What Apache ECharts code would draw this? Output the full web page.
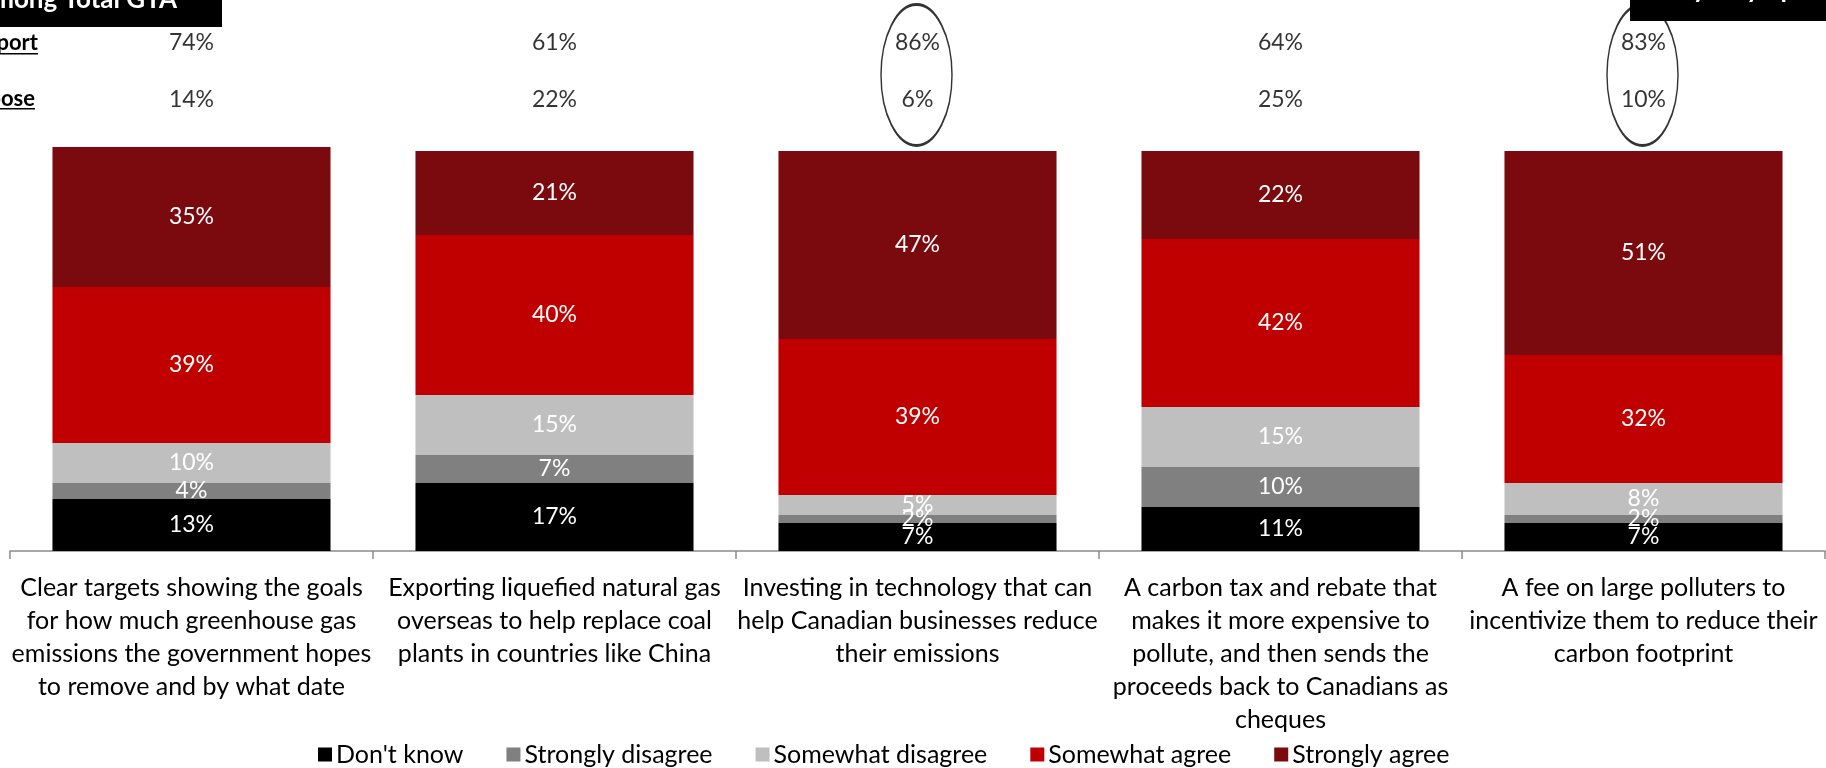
<!DOCTYPE html>
<html>
<head>
<meta charset="utf-8">
<script src="https://cdn.jsdelivr.net/npm/echarts@6/dist/echarts.min.js"></script>
<style>
html,body{margin:0;padding:0;background:#fff;}
#chart{width:1826px;height:768px;}
</style>
</head>
<body>
<div id="chart"></div>
<script>
const categories = [
  "Clear targets showing the goals\nfor how much greenhouse gas\nemissions the government hopes\nto remove and by what date",
  "Exporting liquefied natural gas\noverseas to help replace coal\nplants in countries like China",
  "Investing in technology that can\nhelp Canadian businesses reduce\ntheir emissions",
  "A carbon tax and rebate that\nmakes it more expensive to\npollute, and then sends the\nproceeds back to Canadians as\ncheques",
  "A fee on large polluters to\nincentivize them to reduce their\ncarbon footprint"
];
const seriesNames = ["Don't know", "Strongly disagree", "Somewhat disagree", "Somewhat agree", "Strongly agree"];
const dontKnow = [13, 17, 7, 11, 7];
const stronglyDisagree = [4, 7, 2, 10, 2];
const somewhatDisagree = [10, 15, 5, 15, 8];
const somewhatAgree = [39, 40, 39, 42, 32];
const stronglyAgree = [35, 21, 47, 22, 51];
const supportTotals = [74, 61, 86, 64, 83];
const opposeTotals = [14, 22, 6, 25, 10];
const rowLabels = ["Support", "Oppose"];
const highlightCols = [2, 4];

const colors = ["#000000", "#808080", "#BFBFBF", "#C00000", "#7B0A0F"];
const values = [dontKnow, stronglyDisagree, somewhatDisagree, somewhatAgree, stronglyAgree];
const FONT = "Lato";

const chart = echarts.init(document.getElementById('chart'), null, {renderer: 'canvas'});

const barSeries = seriesNames.map((name, i) => ({
  name: name,
  type: 'bar',
  stack: 'total',
  xAxisIndex: 0,
  yAxisIndex: 0,
  barWidth: '76.6%',
  data: values[i],
  itemStyle: {color: colors[i]},
  label: {
    show: true,
    position: 'inside',
    color: '#ffffff',
    fontFamily: FONT,
    fontSize: 23,
    formatter: p => p.value + '%'
  },
  emphasis: {disabled: true}
}));

const topData = [];
supportTotals.forEach((v, i) => topData.push([i, rowLabels[0], v]));
opposeTotals.forEach((v, i) => topData.push([i, rowLabels[1], v]));

const option = {
  animation: false,
  backgroundColor: '#ffffff',
  textStyle: {fontFamily: FONT},
  legend: {
    data: seriesNames,
    left: 313,
    top: 737,
    itemWidth: 14,
    itemHeight: 14,
    itemGap: 43,
    icon: 'rect',
    textStyle: {fontFamily: FONT, fontSize: 25, color: '#000000', padding: [0, 0, 0, -1]}
  },
  grid: [
    {left: 10, right: 1, top: 147, bottom: 217, containLabel: false},
    {left: 10, right: 1, top: 14.5, height: 114, containLabel: false}
  ],
  xAxis: [
    {
      type: 'category',
      gridIndex: 0,
      data: categories,
      axisLine: {show: true, lineStyle: {color: '#8c8c8c', width: 1.5}},
      axisTick: {show: true, length: 8, lineStyle: {color: '#8c8c8c', width: 1.5}},
      axisLabel: {
        interval: 0,
        margin: 20,
        color: '#000000',
        fontFamily: FONT,
        fontSize: 25,
        lineHeight: 33,
        align: 'center'
      }
    },
    {
      type: 'category',
      gridIndex: 1,
      data: categories,
      show: false
    }
  ],
  yAxis: [
    {
      type: 'value',
      gridIndex: 0,
      min: 0,
      max: 101,
      show: false,
      splitLine: {show: false}
    },
    {
      type: 'category',
      gridIndex: 1,
      data: rowLabels,
      inverse: true,
      axisLine: {show: false},
      axisTick: {show: false},
      splitLine: {show: false},
      axisLabel: {show: false}
    }
  ],
  series: barSeries.concat([
    {
      type: 'scatter',
      name: 'ellipse',
      xAxisIndex: 1,
      yAxisIndex: 1,
      data: highlightCols.map(i => [i, rowLabels[0]]),
      symbol: 'circle',
      symbolSize: [71, 141],
      symbolOffset: [-1, 32],
      itemStyle: {color: 'rgba(255,255,255,0)', borderColor: '#000000', borderWidth: 2},
      silent: true,
      z: 1
    },
    {
      type: 'scatter',
      name: 'totals',
      xAxisIndex: 1,
      yAxisIndex: 1,
      data: topData,
      symbol: 'circle',
      symbolSize: 1,
      itemStyle: {color: 'rgba(0,0,0,0)'},
      label: {
        show: true,
        position: 'inside',
        color: '#000000',
        fontFamily: FONT,
        fontSize: 23,
        formatter: p => p.value[2] + '%'
      },
      silent: true,
      z: 3
    }
  ]),
  graphic: [
    {type: 'rect', shape: {x: 0, y: 0, width: 222, height: 27}, style: {fill: '#000000'}},
    {type: 'text', style: {text: 'Among Total GTA', x: 177, y: 13, align: 'right', verticalAlign: 'bottom', fill: '#ffffff', font: 'bold 26px Lato'}},
    {type: 'rect', shape: {x: 1630, y: 0, width: 196, height: 21}, style: {fill: '#000000'}},
    {type: 'text', style: {text: 'By City Specific', x: 1676, y: 3, align: 'left', verticalAlign: 'bottom', fill: '#ffffff', font: 'bold 26px Lato'}},
    {type: 'text', style: {text: 'Support', x: 38, y: 43, align: 'right', verticalAlign: 'middle', fill: '#000000', font: 'bold 22px Lato'}},
    {type: 'rect', shape: {x: 0, y: 53, width: 38, height: 1.5}, style: {fill: '#000000'}},
    {type: 'text', style: {text: 'Oppose', x: 35, y: 99, align: 'right', verticalAlign: 'middle', fill: '#000000', font: 'bold 22px Lato'}},
    {type: 'rect', shape: {x: 0, y: 108, width: 35, height: 1.5}, style: {fill: '#000000'}}
  ]
};
chart.setOption(option);
</script>
</body>
</html>
